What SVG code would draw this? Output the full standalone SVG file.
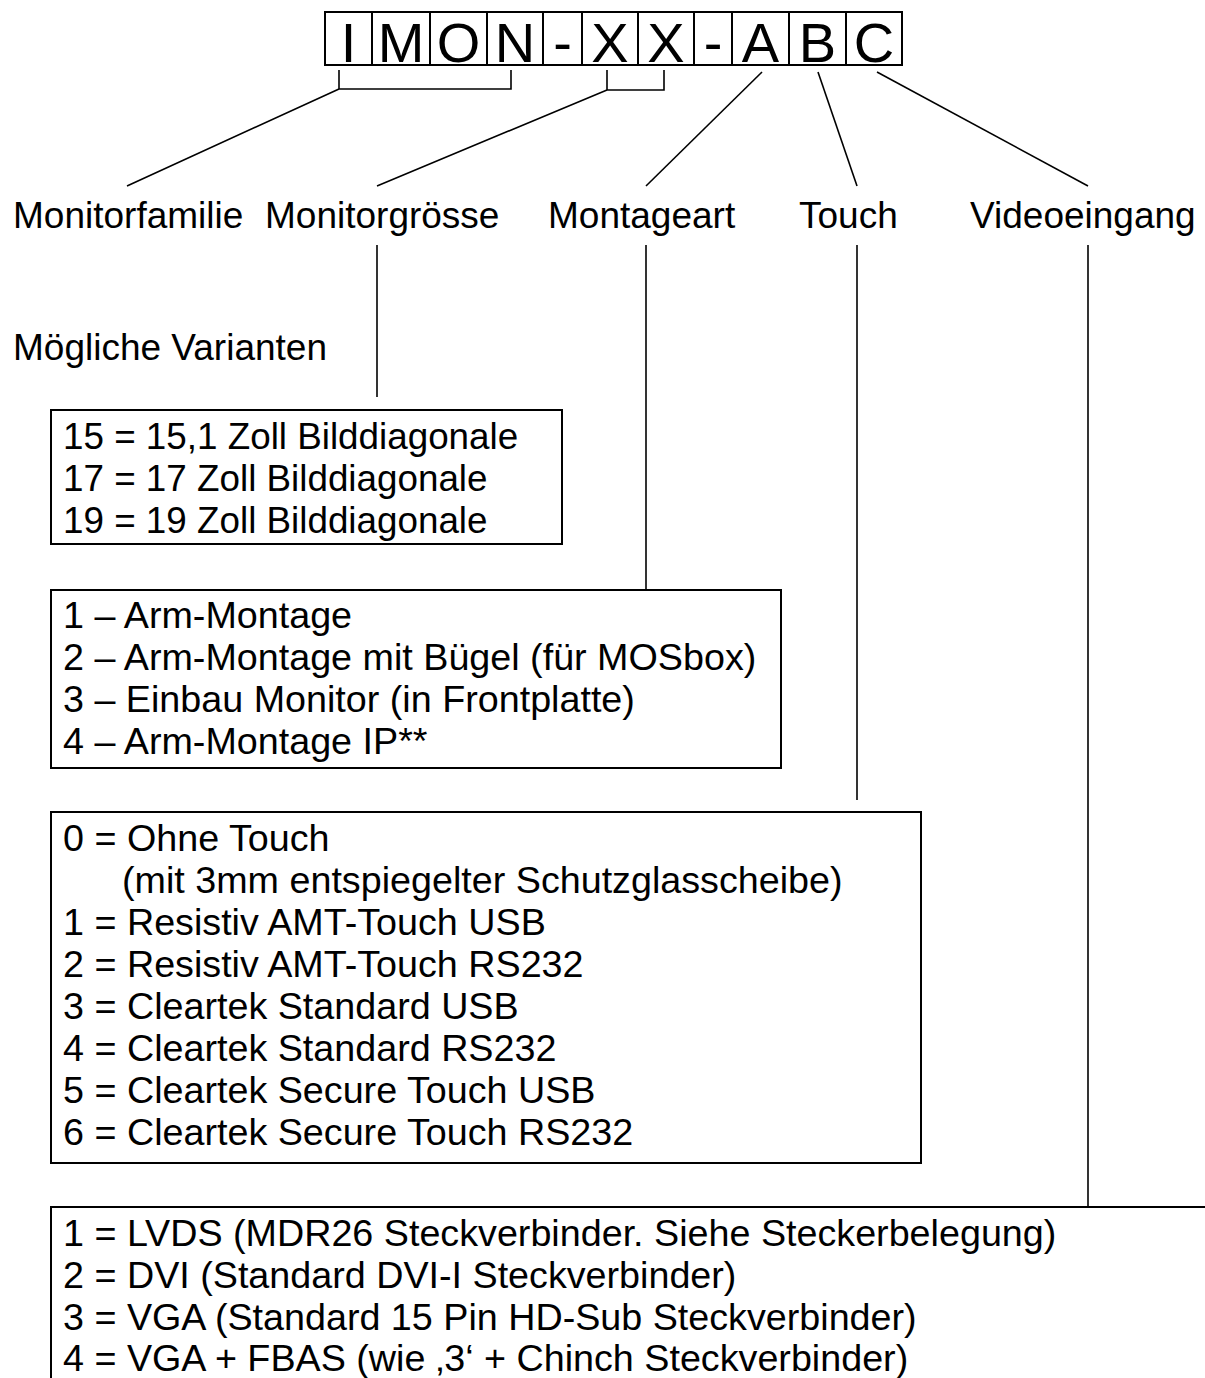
<svg xmlns="http://www.w3.org/2000/svg" width="1205" height="1378" viewBox="0 0 1205 1378">
<style>
text{font-family:"Liberation Sans",Arial,sans-serif;fill:#000}
.code{font-size:56px;text-anchor:middle}
.lbl{font-size:37px}
.opt{font-size:37.7px}
.opt1{font-size:36.8px}
.box{fill:none;stroke:#000;stroke-width:2}
.ln{fill:none;stroke:#000;stroke-width:1.6}
</style>
<rect width="1205" height="1378" fill="#fff"/>
<g id="code">
<rect class="box" x="325" y="12" width="577" height="53"/>
<path class="box" d="M372 12V65M430 12V65M487 12V65M543 12V65M582 12V65M638 12V65M694 12V65M732 12V65M789 12V65M846 12V65"/>
<text class="code" x="348.5" y="62">I</text>
<text class="code" x="401" y="62">M</text>
<text class="code" x="458.5" y="62">O</text>
<text class="code" x="515" y="62">N</text>
<text class="code" x="562.5" y="62">-</text>
<text class="code" x="610" y="62">X</text>
<text class="code" x="666" y="62">X</text>
<text class="code" x="713" y="62">-</text>
<text class="code" x="760.5" y="62">A</text>
<text class="code" x="817.5" y="62">B</text>
<text class="code" x="874" y="62">C</text>
</g>
<g id="connectors">
<path class="ln" d="M339 70V89H511V70M339 89L127 186"/>
<path class="ln" d="M607 70V90H664V70M607 90L377 186"/>
<path class="ln" d="M762 72L646 186"/>
<path class="ln" d="M818 72L857 186"/>
<path class="ln" d="M877 72L1088 186"/>
<path class="ln" d="M377 245V397"/>
<path class="ln" d="M646 245V590"/>
<path class="ln" d="M857 245V800"/>
<path class="ln" d="M1088 245V1207"/>
</g>
<g id="labels">
<text class="lbl" x="13" y="228">Monitorfamilie</text>
<text class="lbl" x="265" y="228">Monitorgrösse</text>
<text class="lbl" x="548" y="228">Montageart</text>
<text class="lbl" x="799" y="228">Touch</text>
<text class="lbl" x="970" y="228">Videoeingang</text>
<text class="lbl" x="13" y="360">Mögliche Varianten</text>
</g>
<g id="box-size">
<rect class="box" x="51" y="410" width="511" height="134"/>
<text class="opt1" x="63" y="449">15 = 15,1 Zoll Bilddiagonale</text>
<text class="opt1" x="63" y="491">17 = 17 Zoll Bilddiagonale</text>
<text class="opt1" x="63" y="533">19 = 19 Zoll Bilddiagonale</text>
</g>
<g id="box-mount">
<rect class="box" x="51" y="590" width="730" height="178"/>
<text class="opt" x="63" y="628">1 – Arm-Montage</text>
<text class="opt" x="63" y="670">2 – Arm-Montage mit Bügel (für MOSbox)</text>
<text class="opt" x="63" y="712">3 – Einbau Monitor (in Frontplatte)</text>
<text class="opt" x="63" y="754">4 – Arm-Montage IP**</text>
</g>
<g id="box-touch">
<rect class="box" x="51" y="812" width="870" height="351"/>
<text class="opt" x="63" y="851">0 = Ohne Touch</text>
<text class="opt" x="122" y="893">(mit 3mm entspiegelter Schutzglasscheibe)</text>
<text class="opt" x="63" y="935">1 = Resistiv AMT-Touch USB</text>
<text class="opt" x="63" y="977">2 = Resistiv AMT-Touch RS232</text>
<text class="opt" x="63" y="1019">3 = Cleartek Standard USB</text>
<text class="opt" x="63" y="1061">4 = Cleartek Standard RS232</text>
<text class="opt" x="63" y="1103">5 = Cleartek Secure Touch USB</text>
<text class="opt" x="63" y="1145">6 = Cleartek Secure Touch RS232</text>
</g>
<g id="box-video">
<path class="box" d="M1206 1207H51V1380"/>
<text class="opt" x="63" y="1246">1 = LVDS (MDR26 Steckverbinder. Siehe Steckerbelegung)</text>
<text class="opt" x="63" y="1288">2 = DVI (Standard DVI-I Steckverbinder)</text>
<text class="opt" x="63" y="1330">3 = VGA (Standard 15 Pin HD-Sub Steckverbinder)</text>
<text class="opt" x="63" y="1371">4 = VGA + FBAS (wie ‚3‘ + Chinch Steckverbinder)</text>
</g>
</svg>
